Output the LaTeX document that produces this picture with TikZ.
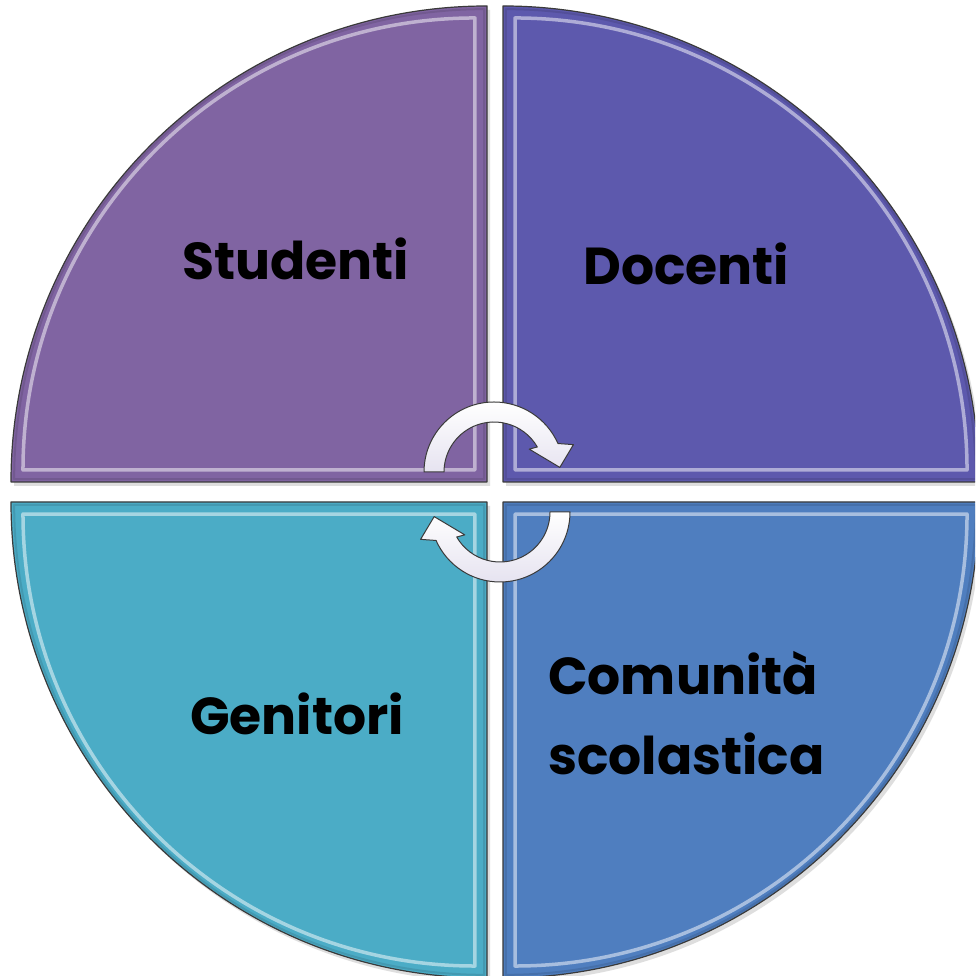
\documentclass[tikz,border=0pt]{standalone}
\usepackage{fontspec}
\newfontfamily\lab{Poppins}
\usetikzlibrary{calc}
\definecolor{cTL}{HTML}{8064A2}
\definecolor{cTR}{HTML}{5D59AD}
\definecolor{cBL}{HTML}{4BACC6}
\definecolor{cBR}{HTML}{4F7EBF}
\definecolor{edge}{HTML}{3A3A3A}
\definecolor{arrfill}{HTML}{E6E3F0}
\newcommand\drawsector[4]{%
  % #1 cx, #2 cy, #3 start angle, #4 colour
  \fill[black!25,opacity=0.5] (#1+3,#2-4) -- ++(#3:476) arc[start angle=#3, end angle=#3+90, radius=476] -- cycle;
  \fill[#4] (#1,#2) -- ++(#3:476) arc[start angle=#3, end angle=#3+90, radius=476] -- cycle;
  \draw[white,opacity=0.5,line width=3.5pt,line join=round]
    ($(#1,#2)+(#3+45:17)$) -- ++(#3:452) arc[start angle=#3, end angle=#3+90, radius=452] -- cycle;
  \draw[#4!70!black,opacity=0.35,line width=2pt,line join=round]
    ($(#1,#2)+(#3+45:4)$) -- ++(#3:470) arc[start angle=#3, end angle=#3+90, radius=470] -- cycle;
  \draw[edge,line width=1.2pt,line join=round] (#1,#2) -- ++(#3:476) arc[start angle=#3, end angle=#3+90, radius=476] -- cycle;
}
\tikzset{
  lbl/.style={inner sep=0pt, anchor=base west, font=\lab\bfseries\fontsize{52}{62}\selectfont, text=black},
  cyc/.style={draw=edge, line width=1pt, line join=round, top color=white, bottom color=arrfill}
}
\begin{document}
\begin{tikzpicture}[x=1pt,y=1pt]
\useasboundingbox (0,0) rectangle (975,976);
\clip (0,0) rectangle (975,976);
\fill[white] (0,0) rectangle (975,976);
\drawsector{487}{494}{90}{cTL}
\drawsector{503}{494}{0}{cTR}
\drawsector{487}{474}{180}{cBL}
\drawsector{503}{474}{270}{cBR}
% labels
\node[lbl] (stud) at (182,696) {Studenti};
\node[lbl] (doc) at (583,691) {Docenti};
\node[lbl] (gen) at (190,241) {Genitori};
\node[lbl] (comA) at (548,281) {Comunità};
\node[lbl] (comB) at (548,201) {scolastica};
% cycle arrows
\coordinate (c1) at (494,504);
\coordinate (c2) at (500,464);
\path[cyc] ($(c1)+(180:70)$) arc[start angle=180, end angle=24, radius=70]
  -- ($(c1)+(19:84)$) -- ($(c1)+(4:66)$) -- ($(c1)+(33:42)$) -- ($(c1)+(30:50)$)
  arc[start angle=30, end angle=180, radius=50] -- cycle;
\path[cyc] ($(c2)+(360:70)$) arc[start angle=360, end angle=204, radius=70]
  -- ($(c2)+(199:84)$) -- ($(c2)+(184:66)$) -- ($(c2)+(213:42)$) -- ($(c2)+(210:50)$)
  arc[start angle=210, end angle=360, radius=50] -- cycle;
\end{tikzpicture}
\end{document}
